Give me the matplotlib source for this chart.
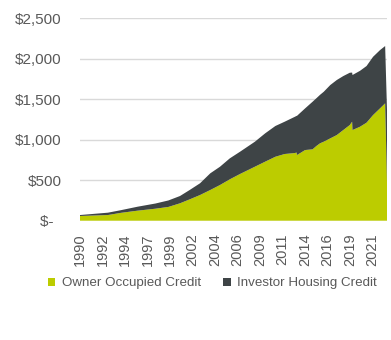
import matplotlib.pyplot as plt

plt.rcParams['font.family'] = ['Liberation Sans', 'DejaVu Sans']

# housing credit outstanding, $bn (time as decimal years)
years = [1990.0, 1993.0, 1994.4, 1996.2, 1998.1, 1999.5, 2000.75, 2001.8, 2002.9,
         2004.0, 2005.05, 2006.1, 2007.2, 2008.8, 2009.9, 2011.0, 2012.0, 2013.1,
         2013.28, 2013.32, 2014.2, 2015.0, 2015.4, 2015.8, 2016.2, 2016.9, 2017.6,
         2018.3, 2019.0, 2019.25, 2019.29, 2020.1, 2020.8, 2021.5, 2022.25, 2022.8,
         2023.0]
owner_occupied = [58, 70, 97, 124, 148, 170, 215, 264, 317,
                  379, 441, 511, 577, 667, 729, 790, 824, 836,
                  842, 811, 873, 882, 922, 956, 976, 1017, 1058,
                  1120, 1182, 1223, 1120, 1161, 1211, 1305, 1388, 1450,
                  466]
investor = [12, 29, 33, 49, 64, 80, 90, 116, 145,
            206, 226, 259, 275, 309, 350, 380, 399, 448,
            453, 484, 515, 588, 590, 599, 617, 659, 680,
            667, 646, 607, 680, 691, 700, 720, 720, 708,
            899]

series_names = ['Owner Occupied Credit', 'Investor Housing Credit']
colors = ['#bccc00', '#3e4446']

# category-style axis: a label every 29 months from Jan 1990
tick_labels = ['1990', '1992', '1994', '1997', '1999', '2002', '2004',
               '2006', '2009', '2011', '2014', '2016', '2019', '2021']
tick_pos = [1990 + k * 29 / 12 for k in range(len(tick_labels))]

y_ticks = [0, 500, 1000, 1500, 2000, 2500]
y_labels = ['$-  ', '$500', '$1,000', '$1,500', '$2,000', '$2,500']

fig = plt.figure(figsize=(3.91, 3.40), dpi=100)
ax = fig.add_axes([0.2046, 0.3509, 0.7852, 0.5951])

ax.stackplot(years, owner_occupied, investor, colors=colors,
             labels=series_names, linewidth=0, zorder=2)

ax.set_xlim(1990, 2023.0)
ax.set_ylim(0, 2500)
ax.set_yticks(y_ticks)
ax.set_yticklabels(y_labels)
ax.set_xticks(tick_pos)
ax.set_xticklabels(tick_labels, rotation=90)

ax.grid(axis='y', color='#d9d9d9', linewidth=1, zorder=0)
ax.set_axisbelow(True)
for s in ax.spines.values():
    s.set_visible(False)
ax.tick_params(axis='y', length=0, pad=13, labelsize=11, labelcolor='#595959')
ax.tick_params(axis='x', length=0, pad=9, labelsize=10.5, labelcolor='#595959')

fig.legend(loc='center', bbox_to_anchor=(0.5435, 0.1668), ncol=2, frameon=False,
           fontsize=9.6, labelcolor='#595959', handlelength=0.55, handleheight=0.55,
           handletextpad=0.5, columnspacing=1.65)

fig.savefig('out.png', dpi=100)
